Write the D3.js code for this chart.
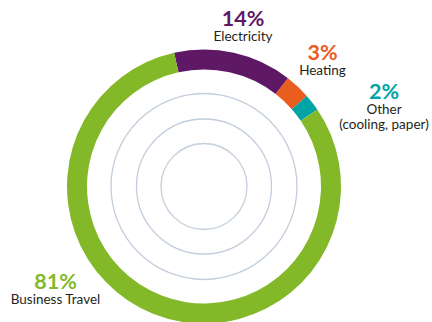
<!DOCTYPE html>
<html>
<head>
<meta charset="utf-8">
<script src="https://cdn.jsdelivr.net/npm/d3@7"></script>
<style>
  html, body { margin: 0; padding: 0; background: #fff; }
  svg { display: block; }
</style>
</head>
<body>
<svg id="chart" width="432" height="322"></svg>
<script>
// Emission shares by source (percent)
const categories = ["Electricity", "Heating", "Other", "Business Travel"];
const values = [14, 3, 2, 81];
const sublabels = [["Electricity"], ["Heating"], ["Other", "(cooling, paper)"], ["Business Travel"]];
const colors = ["#5f1865", "#e95d1f", "#00a3a6", "#83b929"];
const gridRadii = [43, 67.5, 93];

const svg = d3.select("#chart");
const cx = 204, cy = 186.5;
const outerR = 137, innerR = 117;
const startDeg = -12.6;

const g = svg.append("g").attr("transform", `translate(${cx},${cy})`);

// Concentric guide circles inside the ring
g.selectAll("circle.grid")
  .data(gridRadii)
  .join("circle")
  .attr("class", "grid")
  .attr("r", d => d)
  .attr("fill", "none")
  .attr("stroke", "#c3cedd")
  .attr("stroke-width", 1.3);

const start = startDeg * Math.PI / 180;
const pie = d3.pie().sort(null).value(d => d)
  .startAngle(start).endAngle(start + 2 * Math.PI);
const arc = d3.arc().innerRadius(innerR).outerRadius(outerR);

g.selectAll("path.slice")
  .data(pie(values))
  .join("path")
  .attr("class", "slice")
  .attr("d", arc)
  .attr("fill", (d, i) => colors[i]);

// Label anchor points (centre x, baseline of the percentage)
const labelPos = [
  { x: 243, y: 26 },
  { x: 322.5, y: 60 },
  { x: 384, y: 98.5 },
  { x: 55.5, y: 288.5 }
];

const font = "Lato, 'Open Sans', sans-serif";
categories.forEach((c, i) => {
  const p = labelPos[i];
  // One text block per slice: bold percentage, then the category lines
  const t = svg.append("text")
    .attr("x", p.x).attr("y", p.y)
    .attr("text-anchor", "middle")
    .attr("font-family", font);
  t.append("tspan")
    .attr("x", p.x)
    .attr("font-weight", 700)
    .attr("font-size", 21.5)
    .attr("fill", colors[i])
    .text(values[i] + "%");
  sublabels[i].forEach((line, j) => {
    t.append("tspan")
      .attr("x", p.x)
      .attr("dy", 15)
      .attr("font-size", 13.5)
      .attr("fill", "#231f20")
      .text(line);
  });
});
</script>
</body>
</html>
